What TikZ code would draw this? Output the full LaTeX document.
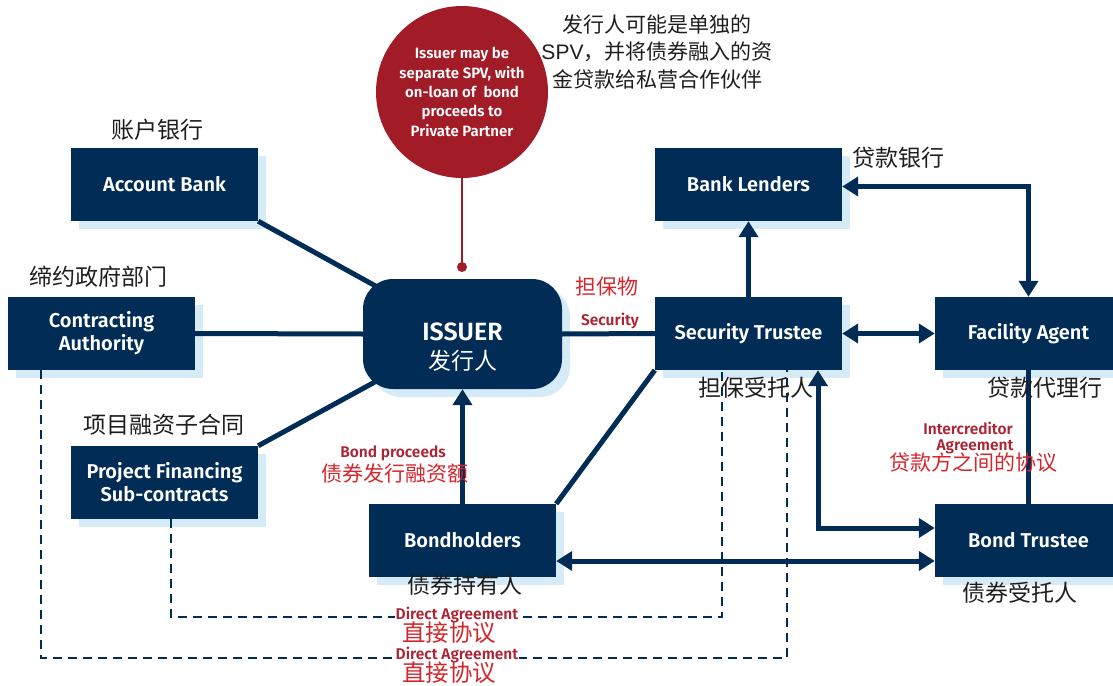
\documentclass[tikz,border=0pt]{standalone}
\usepackage{fontspec}
\setmainfont{Liberation Sans}
\newfontfamily\en{Fira Sans SemiBold}
\newfontfamily\cjk{Noto Sans CJK SC}
\usetikzlibrary{arrows.meta,shadows,calc}
\definecolor{navy}{RGB}{0,44,85}
\definecolor{shblue}{RGB}{214,235,248}
\definecolor{circred}{RGB}{162,28,40}
\definecolor{lblred}{RGB}{212,38,44}
\definecolor{smred}{RGB}{172,36,52}
\definecolor{txtgray}{RGB}{30,30,30}
\tikzset{
  box/.style={fill=navy, text=white, font=\en\fontsize{20}{23}\selectfont,
    minimum width=187pt, minimum height=73pt, inner sep=0pt, align=center,
    general shadow={fill=shblue, shadow xshift=8pt, shadow yshift=-8pt}},
  conn/.style={draw=navy, line width=5pt, line join=miter},
  tip/.tip={Triangle[length=16pt,width=19pt]},
  dashline/.style={draw=navy, line width=1.5pt, dash pattern=on 9pt off 6pt},
  cnlbl/.style={font=\cjk\fontsize{23}{27}\selectfont, text=txtgray, inner sep=0pt},
  cnred/.style={font=\cjk\fontsize{21}{25}\selectfont, text=lblred, inner sep=0pt},
  enred/.style={font=\en\fontsize{15.5}{17}\selectfont, text=smred, inner sep=1pt, align=center},
}
\begin{document}
\begin{tikzpicture}[x=1pt,y=-1pt]
\useasboundingbox (0,0) rectangle (1113,685);
% boxes
\node[box] (ab) at (164.5,184.5) {Account Bank};
\node[box] (ca) at (101.5,333.5) {Contracting\\Authority};
\node[box] (pf) at (164.5,482.5) {Project Financing\\Sub-contracts};
\coordinate (ic) at (462.5,334);
\draw[conn] (ab.south east) -- (ic);
\draw[conn] (pf.north east) -- (ic);
\node[box, minimum width=199pt, minimum height=110pt, rounded corners=30pt,
  label={[text=white, align=center, yshift=-13pt, font=\en\fontsize{25}{27}\selectfont]center:ISSUER\\[2pt]{\cjk\fontsize{23}{26}\selectfont 发行人}}]
  (issuer) at (ic) {};
\node[box] (bl) at (748.5,184.5) {Bank Lenders};
\node[box] (st) at (748.5,333.5) {Security Trustee};
\node[box] (fa) at (1028.5,333.5) {Facility Agent};
\node[box] (bt) at (1028.5,540.5) {Bond Trustee};
\node[box] (bh) at (462.5,540.5) {Bondholders};
% red circle
\node[circle, fill=circred, minimum size=172pt, inner sep=0pt, text=white, align=center,
  font=\en\fontsize{15}{19.3}\selectfont] (circ) at (462,92)
  {Issuer may be\\separate SPV, with\\on-loan of~ bond\\proceeds to\\Private Partner};
\coordinate (dot) at (462,267);
\draw[circred, line width=2.5pt] (circ.south) -- (dot);
\fill[circred] (dot) circle (5pt);
% dashed direct agreements
\draw[dashline] ([xshift=6.5pt]pf.south) -- ++(0,98) -| ([xshift=-26.5pt]st.south);
\draw[dashline] ([xshift=-60.5pt]ca.south) -- ++(0,288) -| ([xshift=38.5pt]st.south);
% connectors
\draw[conn] (ca.east) -- (issuer.west);
\draw[conn] (issuer.east) -- (st.west);
\draw[conn] (bh.north east) -- (st.south west);
\draw[conn,-tip] (bh.north) -- (issuer.south);
\draw[conn,-tip] (st.north) -- (bl.south);
\draw[conn,tip-tip] ([yshift=-2pt]bl.east) -| (fa.north);
\draw[conn,tip-tip] (st.east) -- (fa.west);
\draw[conn] (fa.south) -- (bt.north);
\draw[conn,tip-tip] ([yshift=12.5pt]bt.west) -| ([xshift=69.5pt]st.south);
\draw[conn,tip-tip] ([yshift=-20.5pt]bh.east) -- ([yshift=-20.5pt]bt.west);
% labels
\node[cnlbl] (l1) at (157,130) {账户银行};
\node[cnlbl] (l2) at (98,277) {缔约政府部门};
\node[cnlbl] (l3) at (164,425) {项目融资子合同};
\node[cnlbl] (l4) at (756,388) {担保受托人};
\node[cnlbl] (l5) at (898,158) {贷款银行};
\node[cnlbl] (l6) at (1045,388) {贷款代理行};
\node[cnlbl] (l7) at (465,585) {债券持有人};
\node[cnlbl] (l8) at (1020,593) {债券受托人};
\node[cnlbl, align=center, font=\cjk\fontsize{21}{27.5}\selectfont] (l9) at (657,52)
  {发行人可能是单独的\\{\rmfamily SPV}，并将债券融入的资\\金贷款给私营合作伙伴};
\node[cnred] (r1) at (607,287) {担保物};
\node[enred] (r2) at (610,321) {Security};
\node[enred] (r3) at (393,453) {Bond proceeds};
\node[cnred] (r4) at (395,474) {债券发行融资额};
\node[enred, font=\en\fontsize{15.5}{16}\selectfont] (r5) at (968,438) {Intercreditor\\\hspace*{14pt}Agreement};
\node[cnred] (r6) at (973,463) {贷款方之间的协议};
\node[enred, fill=white, inner sep=0.5pt] (r7) at (457,615) {Direct Agreement};
\node[cnred, font=\cjk\fontsize{23.5}{25}\selectfont] (r8) at (449,633) {直接协议};
\node[enred, fill=white, inner sep=0.5pt] (r9) at (457,655) {Direct Agreement};
\node[cnred, font=\cjk\fontsize{23.5}{25}\selectfont] (r10) at (449,673) {直接协议};
\end{tikzpicture}
\end{document}
